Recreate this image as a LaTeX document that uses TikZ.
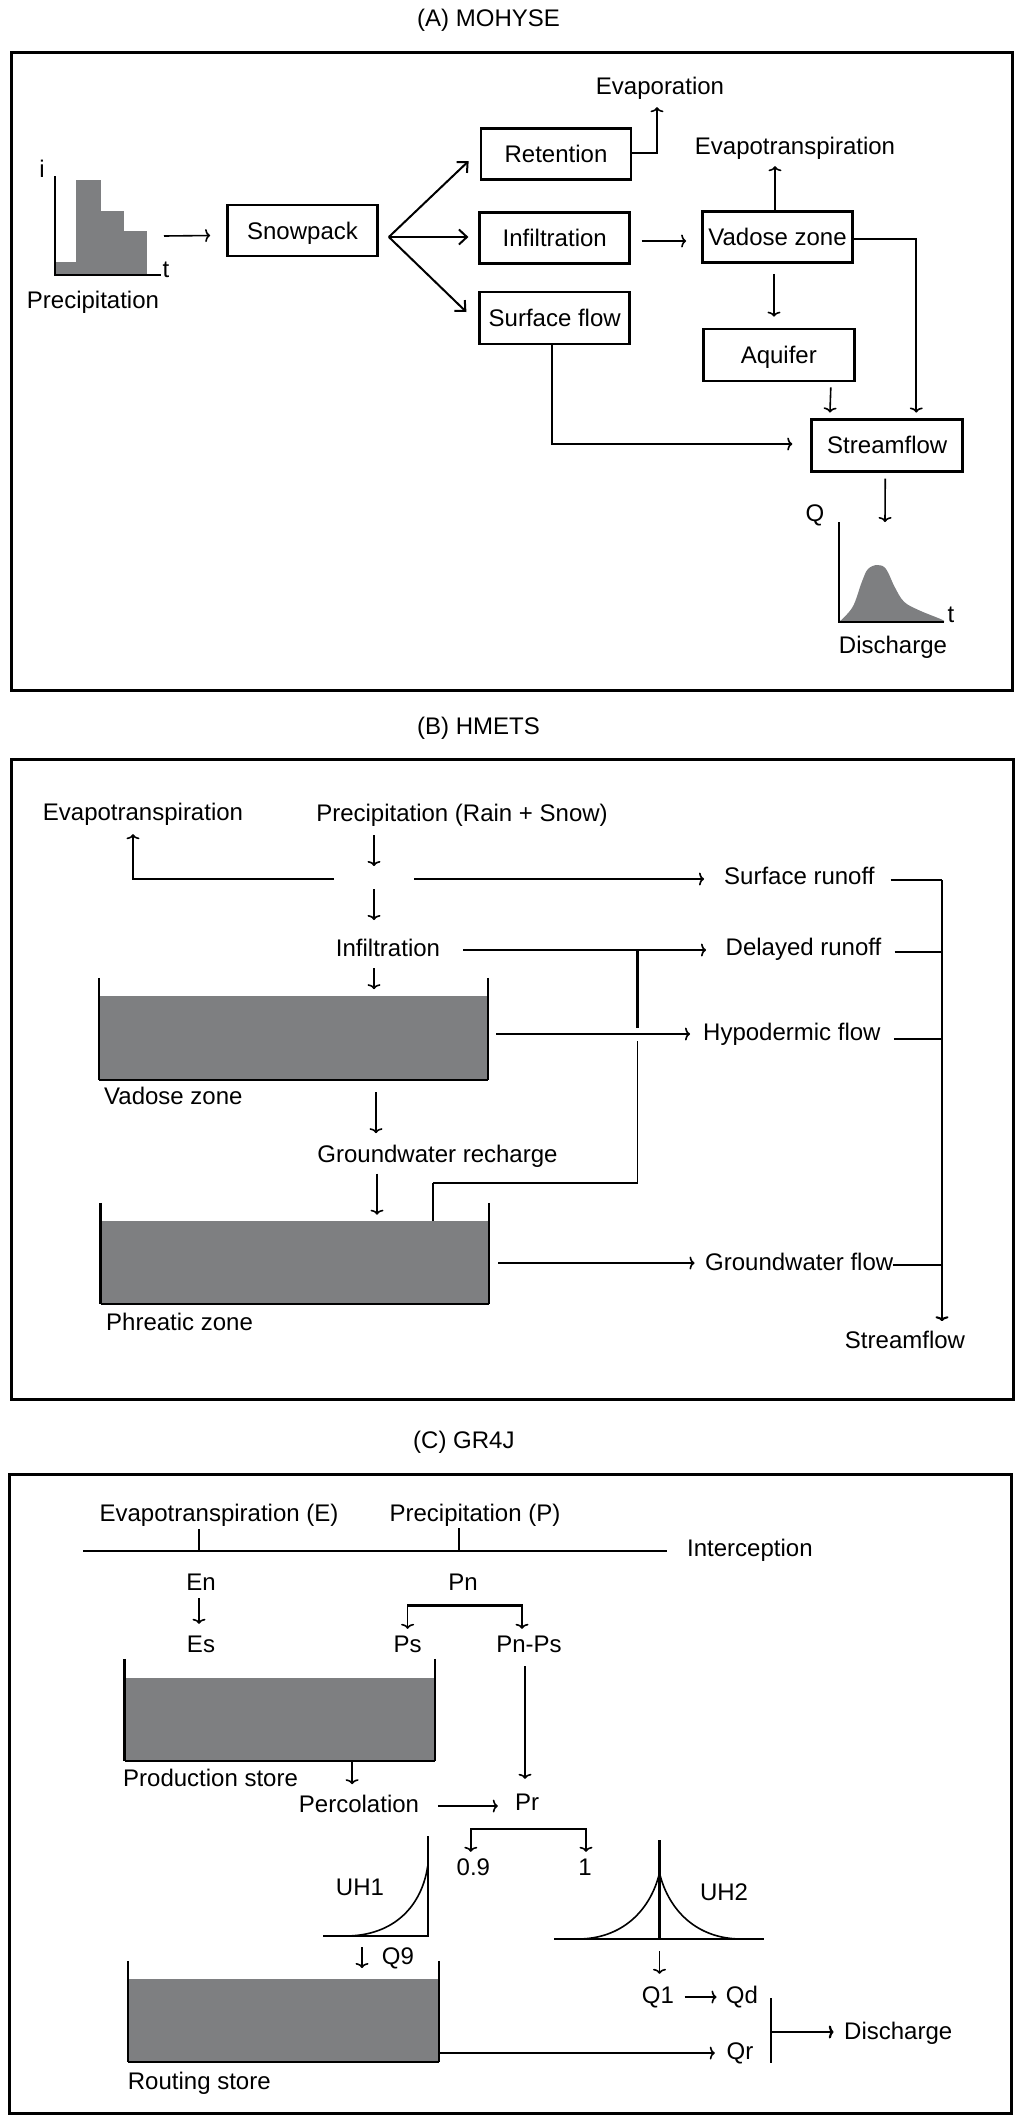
\documentclass[tikz,border=0pt]{standalone}
\usepackage{fontspec}
\setmainfont{Liberation Sans}
\usetikzlibrary{arrows.meta,calc}
\definecolor{gfill}{RGB}{126,127,129}
\newcommand{\tankparts}[2]{%
  \fill[gfill] (#1.south west) rectangle ($(#1.north east)+(0,#2)$);
  \draw[line width=2.4pt] (#1.north west) -- (#1.south west);
  \draw[line width=2.4pt] (#1.north east) -- (#1.south east);
  \draw[line width=1.8pt] (#1.south west) -- (#1.south east);}
\begin{document}
\begin{tikzpicture}[x=1pt,y=-1pt,
  txt/.style={font=\fontsize{24}{28}\selectfont, inner sep=0pt, text height=17.2pt, text depth=0pt},
  box/.style={txt, draw, line width=2.7pt, minimum height=51pt},
  tank/.style={inner sep=0pt},
  conn/.style={line width=1.6pt},
  arr/.style={conn, -{To[length=5pt,width=13pt]}},
  fanarr/.style={line width=2pt, -{Straight Barb[length=8pt,width=15pt]}},
  heavy/.style={line width=2.6pt},
  framebox/.style={line width=3pt},
  axisl/.style={line width=2.4pt}]
\useasboundingbox (0,0) rectangle (1024,2121);

% ================= (A) MOHYSE =================
\node[txt, anchor=west] (titleA) at (417,17.5) {(A) MOHYSE};
\draw[framebox] (11,52) rectangle (1012.5,690);

% precipitation chart
\coordinate (pO) at (55,275);
\fill[gfill] (55,262) rectangle (76,275);
\fill[gfill] (76,180) rectangle (101,275);
\fill[gfill] (101,211) rectangle (124,275);
\fill[gfill] (124,231) rectangle (147,275);
\draw[axisl] ($(pO)+(0,-99)$) -- (pO) -- ++(106,0);
\node[txt] (ilab) at (42,169) {i};
\node[txt] (tlab) at (166,268.5) {t};
\node[txt] (precA) at (93,299.5) {Precipitation};
\coordinate (pch) at (164,236);

\node[box, minimum width=150pt] (snow) at (302.5,230.5) {Snowpack\hspace{12pt}};
\node[box, minimum width=150pt] (ret) at (556,154) {Retention\hspace{18pt}};
\node[box, minimum width=150pt] (inf) at (554.75,238) {Infiltration\hspace{17pt}};
\node[box, minimum width=150pt, minimum height=52pt] (sf) at (554.75,318) {Surface flow};
\node[box, minimum width=150pt] (vad) at (777.5,237) {Vadose zone};
\node[box, minimum width=151pt, minimum height=52pt] (aq) at (778.8,355) {Aquifer};
\node[box, minimum width=151pt, minimum height=52pt, line width=3pt] (stream) at (887.25,445) {Streamflow\hspace{8pt}};
\node[txt] (evap) at (660,86) {Evaporation};
\node[txt] (etA) at (795,146) {Evapotranspiration};

\draw[arr] (pch) -- ($(snow.west)+(-16,5)$);
\coordinate (fan) at ($(snow.east)+(10,6.5)$);
\draw[fanarr] (fan) -- ($(ret.west)+(-11,7)$);
\draw[fanarr] (fan) -- ($(inf.west)+(-10,-1)$);
\draw[fanarr] (fan) -- ($(sf.west)+(-12,-6)$);
\draw[arr] ($(ret.east)+(0,-1)$) -| ($(evap.south)+(-3,12.4)$);
\draw[arr] ($(inf.east)+(10.5,3)$) -- ($(vad.west)+(-15,4)$);
\draw[arr] ($(vad.north)+(-2.5,0)$) -- ($(etA.south)+(-20,11.4)$);
\draw[arr] ($(vad.south)+(-3.5,10)$) -- ($(aq.north)+(-4.8,-11)$);
\draw[arr] ($(vad.east)+(0,2)$) -| ($(stream.north east)+(-48,-5)$);
\draw[arr] ($(aq.south)+(52,5)$) -- ($(stream.north west)+(19.7,-5)$);
\draw[arr] ($(sf.south)+(-3,0)$) |- ($(stream.west)+(-18,-1)$);

% discharge chart
\coordinate (dtop) at (885,522);
\coordinate (dO) at (839,622);
\draw[arr] ($(stream.south)+(-2,6)$) -- (dtop);
\fill[gfill] plot[smooth, tension=0.6] coordinates {(839,622) (852.6,607) (861.8,582) (868,569) (877.5,565) (886,569) (894.7,587) (904,601.7) (918.5,610) (940.5,619) (944,621)} -- (944,622) -- cycle;
\draw[axisl] ($(dO)+(0,-100)$) -- (dO) -- ++(105,0);
\node[txt] (qlab) at (815,512.5) {Q};
\node[txt] (tlab2) at (951,613.5) {t};
\node[txt] (disA) at (893,645) {Discharge};

% ================= (B) HMETS =================
\node[txt, anchor=west] (titleB) at (417,726) {(B) HMETS};
\draw[framebox] (11,759) rectangle (1013,1399);

\node[txt] (evB) at (143,812) {Evapotranspiration};
\node[txt] (prB) at (462,813) {Precipitation (Rain + Snow)};
\node[txt] (infB) at (388,948) {Infiltration};
\node[txt, anchor=west] (sr) at (724,875.5) {Surface runoff};
\node[txt, anchor=west] (dr) at (725.5,947) {Delayed runoff};
\node[txt, anchor=west] (hf) at (703,1032) {Hypodermic flow};
\node[txt, anchor=west] (gwf) at (705,1262) {Groundwater flow};
\node[txt] (gwr) at (437.5,1153.5) {Groundwater recharge};
\node[txt] (sfB) at (905,1340) {Streamflow};

\node[tank, minimum width=389pt, minimum height=102pt] (vadB) at (293.5,1029) {};
\tankparts{vadB}{18}
\node[txt, anchor=west] (vadBl) at (104,1096) {Vadose zone};
\node[tank, minimum width=388pt, minimum height=101pt] (phB) at (294.8,1253.5) {};
\tankparts{phB}{18}
\node[txt, anchor=west] (phBl) at (106,1322) {Phreatic zone};

\coordinate (jB) at (374,879);
\draw[arr] ($(prB.south)+(-88,13.4)$) -- ($(jB)+(0,-13)$);
\draw[arr] ($(jB)+(-40,0)$) -| ($(evB.south)+(-10,13.4)$);
\draw[arr] ($(jB)+(40,0)$) -- ($(sr.west |- jB)+(-20,0)$);
\draw[arr] ($(jB)+(0,10)$) -- ($(jB)+(0,41)$);
\draw[arr] ($(infB.south)+(-14,11.4)$) -- ++(0,21);
\draw[arr] ($(infB.east)+(23,2)$) -- ($(dr.west |- infB.east)+(-19.5,2)$);
\draw[arr] ($(vadB.east)+(8,5)$) -- ($(hf.west |- vadB.east)+(-13,5)$);
\draw[arr] ($(vadB.south)+(82.5,12)$) -- ++(0,41);
\draw[arr] ($(gwr.south)+(-60.5,11.4)$) -- ++(0,41);
\draw[arr] ($(phB.east)+(9,9.5)$) -- ($(gwf.west |- phB.east)+(-10.5,9.5)$);

% bridge from phreatic zone to delayed runoff
\coordinate (br1) at ($(phB.north west)+(332.3,18)$);
\coordinate (br2) at (637.6,949);
\draw[heavy] (br1) -- ++(0,-38);
\draw[conn] ($(br1)+(0,-38)$) -| ($(br2)+(0,92)$);
\draw[heavy] ($(br2)+(0,79)$) -- (br2);

% collector to streamflow
\coordinate (col) at (942,880);
\draw[heavy] ($(sr.east)+(16,4.5)$) -- ($(sr.east -| col)+(0,4.5)$);
\draw[heavy] ($(dr.east)+(13,5)$) -- ($(dr.east -| col)+(0,5)$);
\draw[heavy] ($(hf.east)+(13,7)$) -- ($(hf.east -| col)+(0,7)$);
\draw[heavy] ($(gwf.east)+(0,3)$) -- ($(gwf.east -| col)+(0,3)$);
\draw[arr, line width=2pt] (col) -- ($(sfB.north -| col)+(0,-10)$);

% ================= (C) GR4J =================
\node[txt, anchor=west] (titleC) at (413,1440) {(C) GR4J};
\draw[framebox] (9,1474) rectangle (1011,2113.5);

\node[txt] (evC) at (219,1513) {Evapotranspiration (E)};
\node[txt] (prC) at (475,1513) {Precipitation (P)};
\node[txt, anchor=west] (icp) at (687,1548) {Interception};
\coordinate (icL) at (83,1551);
\draw[heavy] (icL) -- ($(icp.west |- icL)+(-20,0)$);

\node[txt] (enC) at (201,1582) {En};
\node[txt] (esC) at (201,1644) {Es};
\node[txt] (pnC) at (463,1582) {Pn};
\node[txt] (psC) at (407.6,1644) {Ps};
\node[txt] (pnps) at (529,1644) {Pn-Ps};
\draw[conn] ($(icL -| enC)+(-2,0)$) -- ++(0,-22);
\draw[conn] ($(icL -| pnC)+(-4,0)$) -- ++(0,-23);
\draw[arr] ($(enC.south)+(-2,7.4)$) -- ($(esC.north)+(-2,-11.4)$);
\draw[conn, {To[length=5pt,width=13pt]}-{To[length=5pt,width=13pt]}]
  ($(psC.north)+(0,-6.4)$) |- ($(pnC.south)+(0,14.4)$) -| ($(pnps.north)+(-7,-6.4)$);
\draw[heavy] ($(psC.north |- pnC.south)+(0,14.4)$) -- ($(pnps.north |- pnC.south)+(-7,14.4)$);

\node[tank, minimum width=310pt, minimum height=102pt] (prod) at (279.7,1710) {};
\tankparts{prod}{19}
\node[txt, anchor=west] (prodl) at (123,1777.5) {Production store};
\node[txt] (perc) at (359,1803.5) {Percolation};
\node[txt] (prr) at (527,1802) {Pr};
\draw[arr] ($(prod.south west)+(227.6,0)$) -- ++(0,23);
\draw[arr] ($(perc.east)+(18.7,2.5)$) -- ($(prr.west)+(-17,4)$);
\draw[arr] ($(pnps.south)+(-4,13.4)$) -- ($(prr.north)+(-2,-14.4)$);

\node[txt] (n09) at (473.4,1867) {0.9};
\node[txt] (n1) at (585,1867) {1};
\draw[conn, {To[length=5pt,width=13pt]}-{To[length=5pt,width=13pt]}]
  ($(n09.north)+(-2.6,-6.4)$) |- ($(prr.south)+(0,18.4)$) -| ($(n1.north)+(1,-6.4)$);

% UH1
\coordinate (uh1) at (427.7,1936);
\draw[conn] ($(uh1)+(-82.7,0)$) .. controls ($(uh1)+(-32.7,0)$) and ($(uh1)+(-5.7,-31)$) .. ($(uh1)+(0,-70)$);
\draw[axisl] ($(uh1)+(0,-100)$) -- (uh1) -- ++(-104.7,0);
\node[txt] (uh1l) at (360,1887) {UH1};
\draw[arr] ($(uh1)+(-65.7,11)$) -- ++(0,21);
\node[txt] (q9) at (398,1956) {Q9};

\node[tank, minimum width=311pt, minimum height=101pt] (rout) at (283.5,2011.5) {};
\tankparts{rout}{18}
\node[txt, anchor=west] (routl) at (127.7,2081) {Routing store};
\node[txt] (qr) at (740,2051) {Qr};
\draw[arr] ($(rout.east)+(0,41.5)$) -- ($(qr.west |- rout.east)+(-11.7,41.5)$);

% UH2
\coordinate (uh2) at (659.5,1939);
\draw[conn] ($(uh2)+(-82,0)$) .. controls ($(uh2)+(-37,0)$) and ($(uh2)+(-9,-29)$) .. ($(uh2)+(0,-66)$);
\draw[conn] ($(uh2)+(82,0)$) .. controls ($(uh2)+(37,0)$) and ($(uh2)+(9,-29)$) .. ($(uh2)+(0,-66)$);
\draw[axisl] ($(uh2)+(0,-99)$) -- (uh2);
\draw[axisl] ($(uh2)+(-105.5,0)$) -- ($(uh2)+(104.5,0)$);
\node[txt] (uh2l) at (724,1892) {UH2};
\node[txt] (q1) at (658,1995) {Q1};
\node[txt] (qd) at (742,1995) {Qd};
\draw[arr] ($(uh2)+(0,12)$) -- ($(q1.north)+(1.5,-12.4)$);
\draw[arr] ($(q1.east)+(10.5,2)$) -- ($(qd.west)+(-9.3,2)$);

\node[txt, anchor=west] (disC) at (844,2031) {Discharge};
\coordinate (dbar) at (771,2032);
\draw[axisl] ($(dbar)+(0,-34)$) -- ($(dbar)+(0,31)$);
\draw[line width=2.2pt, -{To[length=5pt,width=13pt]}] (dbar) -- ($(disC.west |- dbar)+(-10.3,0)$);

\end{tikzpicture}
\end{document}
